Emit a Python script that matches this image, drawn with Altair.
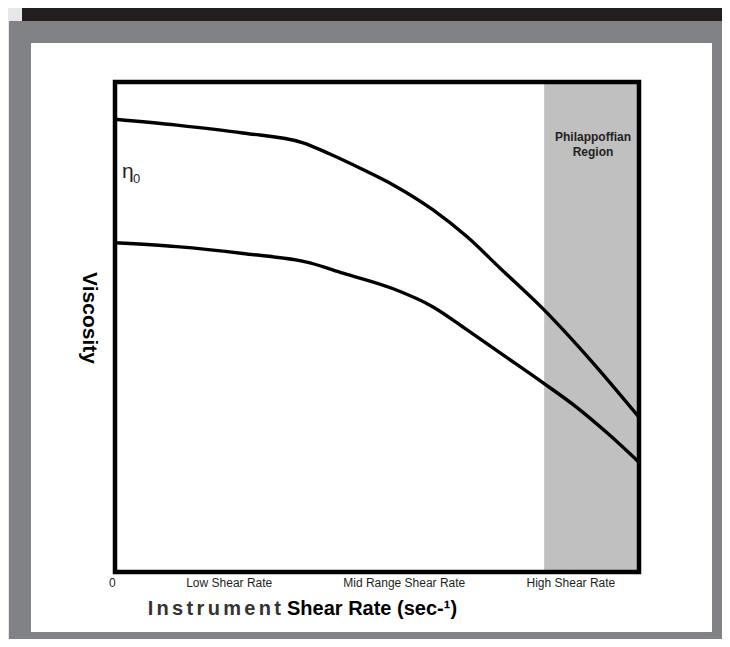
import altair as alt
import pandas as pd

# ---- data ----
upper_x = [0, 11.8, 24.4, 35.9, 41.0, 46.8, 53.1, 60.7, 67.2, 73.5, 81.7, 91.2, 100]
upper_y = [92.4, 91.2, 89.6, 87.6, 85.3, 82.4, 79.0, 73.9, 68.4, 62.0, 53.7, 42.7, 31.6]
lower_x = [0, 11.8, 24.4, 37.2, 43.5, 53.1, 60.7, 67.2, 73.5, 81.7, 88.0, 93.9, 100]
lower_y = [67.2, 66.4, 65.0, 63.1, 61.0, 57.8, 54.1, 49.4, 44.7, 38.6, 33.7, 28.4, 22.4]
region_x = [81.9, 100]
tick_labels = ["0", "Low Shear Rate", "Mid Range Shear Rate", "High Shear Rate"]
tick_pos = [-0.5, 21.8, 55.2, 87.0]

FONT = "Liberation Sans, Arial, Helvetica, sans-serif"
W, H = 524, 490
xs = alt.Scale(domain=[0, 100], nice=False, zero=False)
ys = alt.Scale(domain=[0, 100], nice=False, zero=False)

lines_df = pd.DataFrame(
    {"x": upper_x + lower_x,
     "y": upper_y + lower_y,
     "series": ["upper"] * len(upper_x) + ["lower"] * len(lower_x)}
)
region_df = pd.DataFrame({"x": [region_x[0]], "x2": [region_x[1]], "y": [0], "y2": [100]})
frame_df = pd.DataFrame({"x": [0], "x2": [100], "y": [0], "y2": [100]})
ticks_df = pd.DataFrame({"pos": tick_pos, "label": tick_labels})
one = pd.DataFrame({"a": [0]})


def deco(x, x2, y, y2, color):
    return alt.Chart(one).mark_rect(color=color, strokeWidth=0).encode(
        x=alt.value(x), x2=alt.value(x2), y=alt.value(y), y2=alt.value(y2)
    )


def label(text, x, y, size, bold=False, align="left", color="#000000", angle=0, baseline="alphabetic"):
    return alt.Chart(one).mark_text(
        text=text, font=FONT, fontSize=size, fontWeight="bold" if bold else "normal",
        align=align, baseline=baseline, color=color, angle=angle
    ).encode(x=alt.value(x), y=alt.value(y))


band = deco(-93, 615, -74, -61, "#231f20")
corner = deco(-107, -93, -74, -61, "#e6e7e8")
strip = deco(-107, -106, -74, 565, "#e6e7e8")
inner = deco(-84, 597, -39, 550, "#ffffff")

region = alt.Chart(region_df).mark_rect(color="#c0c0c0").encode(
    x=alt.X("x:Q", scale=xs, axis=None), x2="x2",
    y=alt.Y("y:Q", scale=ys, axis=None), y2="y2",
)

curves = alt.Chart(lines_df).mark_line(color="#000000", strokeWidth=3.4, interpolate="monotone").encode(
    x=alt.X("x:Q", scale=xs, axis=None),
    y=alt.Y("y:Q", scale=ys, axis=None),
    detail="series:N",
)

frame = alt.Chart(frame_df).mark_rect(fill=None, fillOpacity=0, stroke="#000000", strokeWidth=4.5).encode(
    x=alt.X("x:Q", scale=xs, axis=None), x2="x2",
    y=alt.Y("y:Q", scale=ys, axis=None), y2="y2",
)

ticks = alt.Chart(ticks_df).mark_text(font=FONT, fontSize=12, color="#231f20", baseline="alphabetic").encode(
    x=alt.X("pos:Q", scale=xs, axis=None),
    y=alt.value(505),
    text="label:N",
)

instr = label("\u2006".join("Instrument"), 166, 533, 20, bold=True, align="right", color="#333333")
shear = label("Shear Rate (sec-\u00b9)", 172, 533, 20, bold=True)
visc = label("Viscosity", -26, 236, 21, bold=True, align="center", angle=90, baseline="middle")
eta = label("\u03b7", 7, 96, 21, color="#231f20")
eta_sub = label("0", 18, 101, 13, color="#231f20")
phil1 = label("Philappoffian", 478, 59, 12, bold=True, align="center", color="#231f20")
phil2 = label("Region", 478, 74, 12, bold=True, align="center", color="#231f20")

chart = alt.layer(
    corner, strip, band, inner, region, curves, frame, ticks,
    instr, shear, visc, eta, eta_sub, phil1, phil2
).properties(
    width=W, height=H,
    autosize=alt.AutoSizeParams(type="none"),
    padding={"left": 107, "top": 74, "right": 83, "bottom": 67},
    background="#808285",
).configure_view(stroke=None)

chart.save("out.html", embed_options={"renderer": "svg", "actions": False})
